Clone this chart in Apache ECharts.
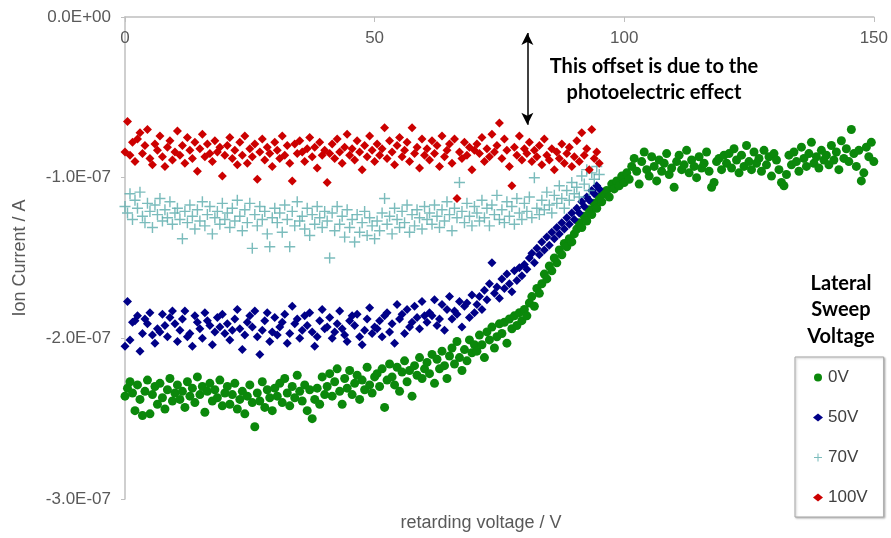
<!DOCTYPE html>
<html>
<head>
<meta charset="utf-8">
<script src="https://cdn.jsdelivr.net/npm/echarts@6/dist/echarts.min.js"></script>
<style>html,body{margin:0;padding:0;background:#fff}#c{width:891px;height:538px}</style>
</head>
<body>
<div id="c"></div>
<script>
// Retarding voltage sweep: 0 V upward in 0.5 V steps (V)
const STEP_V = 0.5;
// Ion current values, in units of 1e-7 A
const UNIT = 1e-7;
const seriesNames = ['0V', '50V', '70V', '100V'];
const xTicks = [0, 50, 100, 150];
const yTicks = [0, -1, -2, -3]; // x 1e-7 A

const current0V = [
 -2.36,-2.31,-2.27,-2.34,-2.45,-2.29,-2.38,-2.48,-2.33,-2.26,-2.47,-2.35,-2.30,-2.41,-2.28,-2.37,-2.44,-2.32,-2.25,-2.39,-2.34,
 -2.29,-2.38,-2.33,-2.43,-2.27,-2.36,-2.31,-2.40,-2.24,-2.35,-2.30,-2.46,-2.33,-2.28,-2.39,-2.32,-2.37,-2.26,-2.42,-2.34,
 -2.30,-2.41,-2.35,-2.28,-2.44,-2.38,-2.33,-2.47,-2.36,-2.29,-2.40,-2.55,-2.34,-2.39,-2.27,-2.43,-2.32,-2.37,-2.45,-2.31,
 -2.36,-2.28,-2.40,-2.25,-2.34,-2.42,-2.30,-2.37,-2.23,-2.33,-2.39,-2.29,-2.45,-2.32,-2.50,-2.38,-2.31,-2.41,-2.24,-2.35,
 -2.30,-2.22,-2.36,-2.27,-2.19,-2.33,-2.41,-2.25,-2.31,-2.20,-2.35,-2.28,-2.23,-2.38,-2.26,-2.32,-2.18,-2.29,-2.34,-2.24,
 -2.22,-2.30,-2.19,-2.43,-2.26,-2.16,-2.24,-2.29,-2.18,-2.33,-2.21,-2.14,-2.27,-2.20,-2.36,-2.17,-2.23,-2.12,-2.25,-2.19,
 -2.15,-2.22,-2.10,-2.28,-2.13,-2.19,-2.08,-2.17,-2.25,-2.11,-2.06,-2.16,-2.02,-2.12,-2.20,-2.07,-2.14,-2.01,-2.09,-2.04,
 -2.08,-1.98,-2.04,-2.12,-1.96,-2.01,-1.93,-2.06,-1.99,-1.91,-1.97,-1.90,-2.03,-1.88,-1.94,-1.86,-1.92,-1.84,-1.89,-1.82,
 -1.86,-1.78,-1.74,-1.80,-1.69,-1.72,-1.66,-1.60,-1.63,-1.55,-1.58,-1.50,-1.53,-1.45,-1.48,-1.41,-1.43,-1.38,-1.40,-1.35,
 -1.32,-1.28,-1.31,-1.24,-1.27,-1.20,-1.23,-1.16,-1.19,-1.12,-1.15,-1.10,-1.08,-1.12,-1.04,-1.07,-1.02,-1.05,-0.99,-1.03,
 -0.97,-1.01,-0.93,-0.88,-0.96,-1.04,-0.90,-0.84,-0.95,-0.99,-0.87,-0.93,-1.02,-0.89,-0.96,-0.91,-0.85,-0.98,-0.94,-1.06,
 -0.90,-0.86,-0.95,-0.92,-0.83,-0.97,-0.89,-0.93,-1.00,-0.87,-0.94,-0.91,-0.84,-0.96,-1.06,-1.03,-0.90,-0.88,-0.95,-0.86,
 -0.91,-0.85,-0.94,-0.82,-0.89,-0.97,-0.86,-0.93,-0.80,-0.90,-0.95,-0.84,-0.91,-0.88,-0.96,-0.83,-0.92,-0.87,-0.99,-0.85,
 -0.89,-0.95,-1.03,-1.05,-0.98,-0.86,-0.92,-0.84,-0.90,-0.96,-0.81,-0.88,-0.93,-0.85,-0.78,-0.91,-0.87,-0.94,-0.83,-0.89,
 -0.86,-0.92,-0.80,-0.89,-0.84,-0.95,-0.77,-0.88,-0.82,-0.90,-0.70,-0.85,-0.93,-0.83,-1.02,-0.97,-0.81,-0.87,-0.78,-0.90
];

const current50V = [
 -2.05,-1.77,-2.01,-1.90,-1.89,-1.86,-2.08,-1.97,-1.88,-1.91,-1.84,-1.98,-2.03,-1.94,-1.96,-1.85,-1.92,-1.99,-1.87,-1.83,-1.91,
 -2.02,-1.95,-1.88,-1.83,-1.99,-1.97,-2.05,-1.86,-1.90,-1.94,-2.00,-1.84,-1.89,-1.92,-2.04,-1.96,-1.87,-1.93,-1.85,-1.97,
 -1.91,-2.01,-1.95,-1.88,-1.82,-1.94,-2.07,-1.98,-1.90,-1.86,-1.93,-1.83,-1.99,-2.10,-1.95,-1.89,-1.84,-2.02,-1.96,-1.87,
 -1.98,-1.93,-1.90,-1.85,-2.03,-1.97,-1.80,-1.91,-1.88,-2.00,-1.95,-1.86,-1.92,-1.84,-1.96,-2.05,-1.99,-1.89,-1.82,-1.94,
 -1.93,-1.87,-2.00,-1.96,-1.91,-1.83,-1.94,-1.98,-2.02,-1.89,-1.86,-1.92,-1.85,-1.99,-2.04,-1.95,-1.88,-1.81,-1.97,-1.93,
 -1.94,-1.89,-1.99,-1.86,-1.84,-1.96,-1.91,-2.03,-1.79,-1.88,-1.85,-1.97,-1.82,-1.93,-1.90,-1.80,-1.87,-1.94,-1.77,-1.86,
 -1.90,-1.84,-1.86,-1.76,-1.92,-1.88,-1.79,-1.95,-1.82,-1.74,-1.88,-1.83,-1.85,-1.77,-1.93,-1.80,-1.78,-1.87,-1.73,-1.84,
 -1.79,-1.74,-1.82,-1.70,-1.76,-1.66,-1.53,-1.72,-1.68,-1.75,-1.63,-1.69,-1.60,-1.66,-1.71,-1.58,-1.64,-1.56,-1.61,-1.54,
 -1.57,-1.50,-1.47,-1.53,-1.44,-1.48,-1.40,-1.45,-1.37,-1.42,-1.34,-1.38,-1.31,-1.35,-1.28,-1.32,-1.25,-1.29,-1.22,-1.26,
 -1.19,-1.22,-1.15,-1.18,-1.12,-1.14,-1.08,-1.10,-1.05,-1.07
];

const current70V = [
 -1.18,-1.22,-1.10,-1.26,-1.14,-1.19,-1.09,-1.24,-1.28,-1.16,-1.21,-1.31,-1.17,-1.23,-1.13,-1.27,-1.20,-1.25,-1.15,-1.29,-1.22,
 -1.19,-1.26,-1.38,-1.21,-1.28,-1.17,-1.24,-1.32,-1.20,-1.27,-1.15,-1.30,-1.23,-1.18,-1.35,-1.25,-1.21,-1.29,-1.16,-1.26,
 -1.22,-1.31,-1.19,-1.27,-1.14,-1.24,-1.33,-1.20,-1.28,-1.16,-1.44,-1.23,-1.30,-1.18,-1.26,-1.21,-1.35,-1.43,-1.25,-1.19,
 -1.28,-1.22,-1.34,-1.17,-1.26,-1.43,-1.21,-1.30,-1.15,-1.27,-1.24,-1.32,-1.19,-1.36,-1.23,-1.29,-1.18,-1.25,-1.31,-1.21,
 -1.27,-1.50,-1.22,-1.33,-1.18,-1.29,-1.24,-1.37,-1.20,-1.31,-1.26,-1.40,-1.23,-1.34,-1.28,-1.21,-1.36,-1.25,-1.30,-1.38,
 -1.27,-1.33,-1.22,-1.13,-1.29,-1.24,-1.35,-1.19,-1.26,-1.31,-1.21,-1.28,-1.17,-1.34,-1.23,-1.30,-1.20,-1.25,-1.32,-1.18,
 -1.26,-1.22,-1.29,-1.17,-1.24,-1.31,-1.20,-1.27,-1.15,-1.23,-1.33,-1.19,-1.25,-1.03,-1.21,-1.28,-1.16,-1.24,-1.30,-1.18,
 -1.22,-1.27,-1.14,-1.25,-1.19,-1.30,-1.17,-1.23,-1.11,-1.26,-1.20,-1.28,-1.15,-1.24,-1.18,-1.29,-1.13,-1.22,-1.26,-1.16,
 -1.21,-1.12,-1.25,-1.00,-1.19,-1.23,-1.14,-1.20,-1.09,-1.17,-1.22,-1.11,-1.16,-1.05,-1.13,-1.19,-1.08,-1.14,-1.03,-1.10,
 -1.06,-1.12,-0.99,-1.04,-0.95,-1.08,-0.97,-1.01,-0.93,-0.98
];

const current100V = [
 -0.84,-0.65,-0.86,-0.78,-0.90,-0.76,-0.72,-0.85,-0.80,-0.70,-0.88,-0.92,-0.79,-0.83,-0.74,-0.87,-0.93,-0.81,-0.77,-0.89,-0.84,
 -0.71,-0.86,-0.80,-0.91,-0.75,-0.83,-0.88,-0.78,-0.96,-0.82,-0.73,-0.87,-0.79,-0.85,-0.90,-0.77,-0.84,-0.81,-0.99,-0.86,
 -0.80,-0.75,-0.88,-0.83,-0.92,-0.78,-0.86,-0.74,-0.91,-0.82,-0.87,-0.79,-1.01,-0.84,-0.76,-0.89,-0.81,-0.85,-0.93,-0.78,
 -0.83,-0.88,-0.74,-0.86,-0.80,-0.91,-1.02,-0.79,-0.85,-0.77,-0.84,-0.90,-0.82,-0.75,-0.87,-0.81,-0.94,-0.78,-0.86,-0.83,
 -1.03,-0.85,-0.79,-0.88,-0.76,-0.84,-0.91,-0.81,-0.73,-0.86,-0.82,-0.89,-0.77,-0.84,-0.95,-0.80,-0.87,-0.74,-0.83,-0.90,
 -0.79,-0.86,-0.82,-0.69,-0.88,-0.77,-0.84,-0.92,-0.80,-0.75,-0.87,-0.83,-0.78,-0.90,-0.69,-0.85,-0.81,-0.94,-0.76,-0.86,
 -0.82,-0.89,-0.77,-0.85,-0.80,-0.93,-0.74,-0.87,-0.83,-0.79,-0.91,-0.76,-1.13,-0.84,-0.88,-0.78,-0.86,-0.81,-0.95,-0.83,
 -0.79,-0.85,-0.75,-0.90,-0.82,-0.87,-0.73,-0.84,-0.80,-0.66,-0.88,-0.76,-0.83,-0.93,-1.05,-0.81,-0.86,-0.74,-0.89,-0.82,
 -0.85,-0.78,-0.90,-0.83,-0.87,-0.80,-0.92,-0.76,-0.86,-0.89,-0.82,-0.95,-0.84,-0.88,-0.79,-0.91,-0.85,-0.81,-0.93,-0.87,
 -0.77,-0.90,-0.72,-0.86,-0.82,-0.95,-0.70,-0.88,-0.84,-0.91
];

// annotation: double arrow marking the offset (in data units)
const arrowV = 80.6;
const arrowFrom = -0.10, arrowTo = -0.67; // x 1e-7 A

const toPairs = arr => arr.map((v, i) => [i * STEP_V, v * UNIT]);

function fmtE(v) {
  const s = v.toExponential(1).toUpperCase();
  const m = s.match(/^(-?[\d.]+)E([+-])(\d+)$/);
  return m ? m[1] + 'E' + m[2] + m[3].padStart(2, '0') : s;
}

const CROSS = 'path://M4.35,0H5.65V4.35H10V5.65H5.65V10H4.35V5.65H0V4.35H4.35Z';
const TXT = '#595959';
const FONT = '"Liberation Sans", Arial, sans-serif';
const BOLD = 'Lato, "Open Sans", sans-serif';

const chart = echarts.init(document.getElementById('c'), null, {renderer: 'canvas'});
chart.setOption({
  animation: false,
  backgroundColor: '#ffffff',
  grid: {left: 125, top: 17, width: 750, height: 482},
  xAxis: {
    type: 'value', position: 'top',
    min: xTicks[0], max: xTicks[xTicks.length - 1], interval: xTicks[1] - xTicks[0],
    axisLine: {show: true, lineStyle: {color: '#bfbfbf', width: 1.5}},
    axisTick: {show: true, inside: true, length: 5, lineStyle: {color: '#bfbfbf'}},
    axisLabel: {inside: true, margin: 13, color: TXT, fontSize: 17, fontFamily: FONT},
    splitLine: {show: false}
  },
  yAxis: {
    type: 'value',
    min: yTicks[3] * UNIT, max: yTicks[0] * UNIT, interval: UNIT,
    axisLine: {show: true, lineStyle: {color: '#bfbfbf', width: 1.5}},
    axisTick: {show: true, length: 4, lineStyle: {color: '#bfbfbf'}},
    axisLabel: {margin: 14, color: TXT, fontSize: 17, fontFamily: FONT, formatter: fmtE},
    splitLine: {show: false}
  },
  legend: {
    orient: 'vertical', left: 795, top: 357,
    padding: [12, 16, 11, 18], itemGap: 23,
    itemWidth: 10, itemHeight: 8,
    borderColor: '#a6a6a6', borderWidth: 1,
    shadowColor: 'rgba(0,0,0,0.25)', shadowBlur: 2, shadowOffsetX: 1, shadowOffsetY: 1,
    backgroundColor: '#fff',
    textStyle: {color: '#404040', fontSize: 17, fontFamily: FONT},
    data: seriesNames
  },
  graphic: [
    {type: 'text', x: 654, y: 80, style: {text: 'This offset is due to the\nphotoelectric effect', textAlign: 'center', textVerticalAlign: 'middle', font: 'bold 20px ' + BOLD, fill: '#000', lineHeight: 26}},
    {type: 'text', x: 841, y: 310, style: {text: 'Lateral\nSweep\nVoltage', textAlign: 'center', textVerticalAlign: 'middle', font: 'bold 20px ' + BOLD, fill: '#000', lineHeight: 26.5}},
    {type: 'text', x: 481, y: 523, style: {text: 'retarding voltage / V', textAlign: 'center', textVerticalAlign: 'middle', font: '18px ' + FONT, fill: TXT}},
    {type: 'text', x: 20, y: 258, rotation: Math.PI / 2, style: {text: 'Ion Current / A', textAlign: 'center', textVerticalAlign: 'middle', font: '18px ' + FONT, fill: TXT}}
  ],
  series: [
    {name: seriesNames[0], type: 'scatter', symbol: 'circle', symbolSize: 9,
     itemStyle: {color: '#0b880b', opacity: 1}, data: toPairs(current0V)},
    {name: seriesNames[1], type: 'scatter', symbol: 'diamond', symbolSize: 9,
     itemStyle: {color: '#000088', opacity: 1}, data: toPairs(current50V)},
    {name: seriesNames[2], type: 'scatter', symbol: CROSS, symbolSize: 11,
     itemStyle: {color: '#5aabab', opacity: 0.8}, data: toPairs(current70V)},
    {name: seriesNames[3], type: 'scatter', symbol: 'diamond', symbolSize: 9,
     itemStyle: {color: '#cc0000', opacity: 1}, data: toPairs(current100V),
     markLine: {
       silent: true, symbol: ['arrow', 'arrow'], symbolSize: [9, 12],
       lineStyle: {color: '#000', width: 1.5, type: 'solid'},
       label: {show: false},
       data: [[{coord: [arrowV, arrowFrom * UNIT]}, {coord: [arrowV, arrowTo * UNIT]}]]
     }}
  ]
});
</script>
</body>
</html>
